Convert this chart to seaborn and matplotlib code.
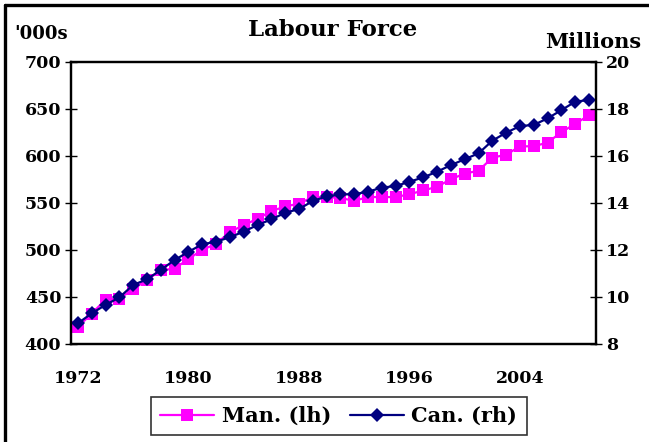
import numpy as np
import pandas as pd
import matplotlib
matplotlib.use("Agg")
import matplotlib.pyplot as plt
from matplotlib.lines import Line2D
import seaborn as sns

# Labour force, Manitoba ('000s, left axis) and Canada (millions, right axis)
years = list(range(1972, 2010))
man = [418, 432, 447, 448, 458, 468, 478, 480, 490, 500,
       506, 519, 526, 533, 541, 546, 549, 556, 556, 555,
       552, 556, 556, 556, 559, 563, 567, 575, 581, 584,
       598, 601, 610, 610, 614, 625, 634, 643]
can = [8.87, 9.29, 9.65, 9.97, 10.50, 10.74, 11.14, 11.56, 11.91, 12.23,
       12.34, 12.53, 12.77, 13.05, 13.29, 13.57, 13.73, 14.07, 14.27, 14.35,
       14.36, 14.47, 14.64, 14.71, 14.89, 15.08, 15.32, 15.60, 15.85, 16.10,
       16.64, 16.98, 17.26, 17.31, 17.59, 17.94, 18.30, 18.37]
year_labels = ["1972", "1980", "1988", "1996", "2004"]

df = pd.DataFrame({"year": years, "man": man, "can": can})
df["pos"] = np.arange(len(df))

sns.set_style("white")
plt.rcParams["font.family"] = ["DejaVu Serif"]
plt.rcParams["font.weight"] = "bold"
# seaborn's style greys out text; the original is pure black
plt.rcParams["text.color"] = "black"
plt.rcParams["xtick.color"] = "black"
plt.rcParams["ytick.color"] = "black"
plt.rcParams["axes.labelcolor"] = "black"

fig = plt.figure(figsize=(6.49, 4.42), dpi=100)
ax = fig.add_axes([0.1094, 0.2224, 0.8089, 0.638])
ax2 = ax.twinx()

sns.lineplot(data=df, x="pos", y="man", ax=ax, color="#ff00ff", marker="s",
             markersize=9, markeredgewidth=0, linewidth=1.6, label="Man. (lh)",
             legend=False)
sns.lineplot(data=df, x="pos", y="can", ax=ax2, color="#000080", marker="D",
             markersize=7.5, markeredgewidth=0, linewidth=1.6, label="Can. (rh)",
             legend=False)

ax.set_xlim(-0.5, len(years) - 0.5)
ax.set_ylim(400, 700)
ax2.set_ylim(8, 20)
ax.set_yticks(range(400, 701, 50))
ax2.set_yticks(range(8, 21, 2))

label_pos = [years.index(int(y)) for y in year_labels]
ax.set_xticks(label_pos)
ax.set_xticklabels(year_labels)
ax.set_xticks(np.arange(-0.5, len(years), 1.0), minor=True)
ax.tick_params(axis="x", which="major", length=0, pad=19, labelsize=12.5)
ax.tick_params(axis="x", which="minor", direction="inout", length=7, width=1)
ax.tick_params(axis="y", direction="inout", length=8, width=1, labelsize=12.5, pad=3)
ax2.tick_params(axis="y", direction="inout", length=8, width=1, labelsize=12.5, pad=3)

for a in (ax, ax2):
    a.set_xlabel("")
    a.set_ylabel("")
    for s in a.spines.values():
        s.set_color("black")
        s.set_linewidth(1.6)

fig.text(0.513, 0.932, "Labour Force", ha="center", va="center",
         fontsize=16.5, fontweight="bold")
fig.text(0.022, 0.922, "'000s", ha="left", va="center",
         fontsize=13, fontweight="bold")
fig.text(0.988, 0.905, "Millions", ha="right", va="center",
         fontsize=15, fontweight="bold")

handles = [ax.get_lines()[0], ax2.get_lines()[0]]
leg = fig.legend(handles, ["Man. (lh)", "Can. (rh)"], loc="center",
                 bbox_to_anchor=(0.522, 0.059), ncol=2, fontsize=15,
                 frameon=True, fancybox=False, handlelength=2.6,
                 columnspacing=0.9, handletextpad=0.35, borderpad=0.45)
leg.get_frame().set_edgecolor("black")
leg.get_frame().set_linewidth(1.2)

# chart-area border (left and top edges visible)
fig.add_artist(Line2D([5 / 649, 5 / 649], [0, 1 - 5 / 442], color="black",
                      linewidth=2.4, transform=fig.transFigure))
fig.add_artist(Line2D([5 / 649, 1], [1 - 5 / 442, 1 - 5 / 442], color="black",
                      linewidth=2.4, transform=fig.transFigure))

fig.savefig("out.png", dpi=100)
